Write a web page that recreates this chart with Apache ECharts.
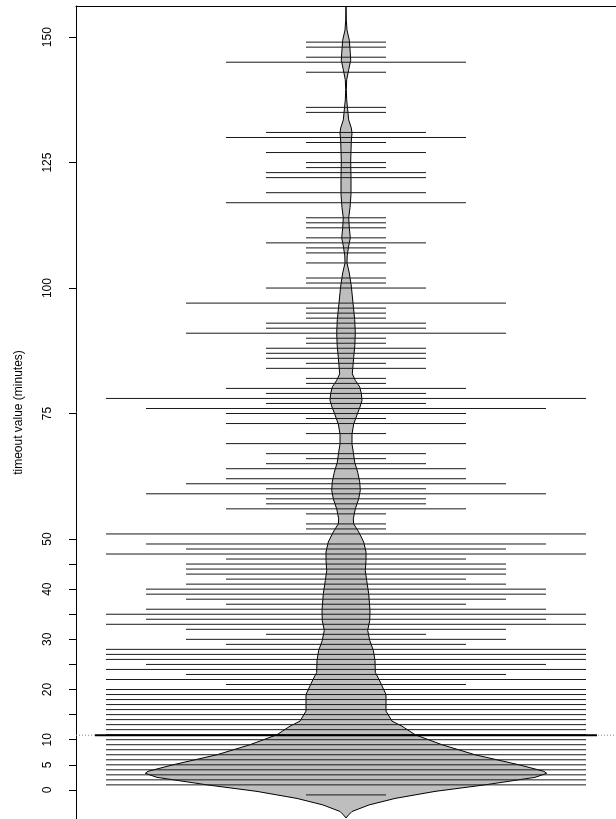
<!DOCTYPE html>
<html>
<head>
<meta charset="utf-8">
<title>timeout beanplot</title>
<script src="https://cdn.jsdelivr.net/npm/echarts@6/dist/echarts.min.js"></script>
<style>
html, body { margin: 0; padding: 0; background: #fff; }
#main { width: 616px; height: 819px; }
</style>
</head>
<body>
<div id="main"></div>
<script>
// timeout values (minutes) and how often each one occurs (6 = longest line)
var beanValues = [149, 148, 146, 145, 143, 136, 135, 131, 130, 129, 127, 125, 124, 123, 122, 119, 117,
	114, 113, 112, 110, 109, 108, 107, 105, 102, 101, 100, 97, 96, 95, 94, 93, 92, 91, 90, 89, 88,
	87, 86, 85, 84, 82, 81, 80, 79, 78, 77, 76, 75, 74, 73, 71, 69, 67, 66, 65, 64, 62, 61, 60, 59,
	58, 57, 56, 55, 53, 52, 51, 49, 48, 47, 46, 45, 44, 43, 42, 41, 40, 39, 38, 37, 36, 35, 34, 33,
	32, 31, 30, 29, 28, 27, 26, 25, 24, 23, 22, 21, 20, 19, 18, 17, 16, 15, 14, 13, 12, 11, 10, 9,
	8, 7, 6, 5, 4, 3, 2, 1, -1];
var beanCounts = [1, 1, 1, 3, 1, 1, 1, 2, 3, 1, 2, 1, 1, 2, 2, 2, 3,
	1, 1, 1, 1, 2, 1, 1, 1, 1, 1, 2, 4, 1, 1, 1, 2, 2, 4, 1, 1, 2,
	2, 2, 1, 2, 1, 1, 3, 2, 6, 2, 5, 3, 1, 3, 1, 3, 2, 1, 2, 3, 3, 4, 2, 5,
	2, 2, 3, 1, 1, 1, 6, 5, 4, 6, 3, 4, 4, 4, 3, 4, 5, 5, 4, 3, 5, 6, 5, 6,
	4, 2, 4, 3, 6, 6, 6, 5, 6, 4, 6, 3, 6, 6, 6, 6, 6, 6, 6, 6, 6, 6, 6, 6,
	6, 6, 6, 6, 6, 6, 6, 6, 1];

// bean outline: value and half width
var outlineValues = [-5.6, -5, -4.3, -3, -1.7, -0.3, 1, 2.5, 3.3, 3.7, 5, 7, 9, 11, 12.7, 13.7, 15.7,
	19, 20, 22, 23.4, 25.8, 27.8, 29.8, 31.8, 33.7, 35.7, 39.1, 41.7, 43.7, 45.7, 47.4, 49.4, 51.4,
	53, 54, 56, 58, 59.7, 61.4, 63.3, 65.3, 67.3, 68.9, 70.9, 72.9, 74.9, 76.3, 77.6, 79, 80.3, 81.6,
	82.9, 86.2, 88.5, 91.1, 93.7, 97, 100.4, 103, 105, 106.4, 108.4, 110, 112, 114, 116, 118.7, 122,
	125.3, 129.3, 130.9, 131.9, 133.5, 135.5, 137.5, 139.5, 141.5, 143.5, 145.4, 146.8, 149.4, 151.4,
	153.4, 156.2];
var outlineWidths = [0, 2.5, 6, 23, 49, 89, 139, 189, 200.7, 198, 173, 129, 96, 69, 56, 46, 40,
	40, 37.7, 33, 29.3, 29, 27.3, 23.7, 21.7, 23.7, 24, 22.7, 20.7, 19.3, 20, 20, 17.7, 12.7,
	7.7, 7.3, 9.3, 12.7, 14.3, 13.7, 11.7, 8.7, 7.3, 6, 6, 7.7, 11.3, 14, 16, 15.3, 13.7, 9.3,
	6.3, 7.7, 8.8, 9.3, 8.7, 7, 5.3, 3.3, 1, 1.2, 2.7, 4.3, 3.3, 2.7, 4, 5, 5,
	4.7, 5.3, 6, 5.3, 2.7, 1.7, 0.7, 0.3, 0.7, 2.7, 4.7, 4.3, 3.3, 1,
	0.3, 0];

var meanValue = 10.9;
var tickValues = [0, 5, 10, 15, 20, 25, 30, 35, 40, 45, 50, 75, 100, 125, 150];
var labelValues = [0, 5, 10, 20, 30, 40, 50, 75, 100, 125, 150];

var LINE_STEP = 40; // half length per occurrence
var MEAN_HALF = 251;

var chart = echarts.init(document.getElementById('main'), null, { renderer: 'canvas' });

var beanData = [];
for (var i = 0; i < beanValues.length; i++) {
	beanData.push([beanValues[i], beanCounts[i]]);
}

var option = {
	animation: false,
	backgroundColor: '#fff',
	textStyle: { fontFamily: 'Liberation Sans, Arial, sans-serif' },
	grid: { left: 76, top: 6, right: 0, bottom: 0 },
	xAxis: {
		type: 'value',
		position: 'top',
		min: -270,
		max: 270,
		axisLine: { show: true, onZero: false, lineStyle: { color: '#000', width: 1 } },
		axisTick: { show: false },
		axisLabel: { show: false },
		splitLine: { show: false }
	},
	yAxis: {
		type: 'value',
		min: -5.8,
		max: 156.2,
		name: 'timeout value (minutes)',
		nameLocation: 'middle',
		nameGap: 51,
		nameTextStyle: { fontSize: 12, color: '#000' },
		axisLine: { show: true, onZero: false, lineStyle: { color: '#000', width: 1 } },
		axisTick: { show: true, length: 7, customValues: tickValues, lineStyle: { color: '#000' } },
		axisLabel: { customValues: labelValues, rotate: 90, margin: 22, fontSize: 12, color: '#000' },
		splitLine: { show: false }
	},
	series: [{
		// the bean (density outline)
		type: 'custom',
		data: [[0, 0]],
		silent: true,
		renderItem: function(params, api) {
			var pts = [];
			for (var k = 0; k < outlineValues.length; k++) {
				pts.push(api.coord([-outlineWidths[k], outlineValues[k]]));
			}
			for (var j = outlineValues.length - 1; j >= 0; j--) {
				pts.push(api.coord([outlineWidths[j], outlineValues[j]]));
			}
			return {
				type: 'polygon',
				shape: { points: pts },
				style: { fill: '#bebebe', stroke: '#000', lineWidth: 1 }
			};
		}
	}, {
		// one line per value
		type: 'custom',
		data: beanData,
		silent: true,
		renderItem: function(params, api) {
			var v = api.value(0);
			var half = api.value(1) * LINE_STEP;
			var a = api.coord([-half, v]);
			var b = api.coord([half, v]);
			return {
				type: 'line',
				shape: { x1: a[0], y1: a[1], x2: b[0], y2: b[1] },
				style: { stroke: '#1a1a1a', lineWidth: 1 }
			};
		}
	}, {
		// overall average and bean average
		type: 'custom',
		data: [[meanValue, 0]],
		silent: true,
		renderItem: function(params, api) {
			var v = api.value(0);
			var l = api.coord([-270, v]);
			var r = api.coord([270, v]);
			var a = api.coord([-MEAN_HALF, v]);
			var b = api.coord([MEAN_HALF, v]);
			return {
				type: 'group',
				children: [{
					type: 'line',
					shape: { x1: l[0], y1: l[1], x2: r[0], y2: r[1] },
					style: { stroke: '#888', lineWidth: 1, lineDash: [1, 2] }
				}, {
					type: 'line',
					shape: { x1: a[0], y1: a[1], x2: b[0], y2: b[1] },
					style: { stroke: '#000', lineWidth: 2 }
				}]
			};
		}
	}]
};
chart.setOption(option);
</script>
</body>
</html>
